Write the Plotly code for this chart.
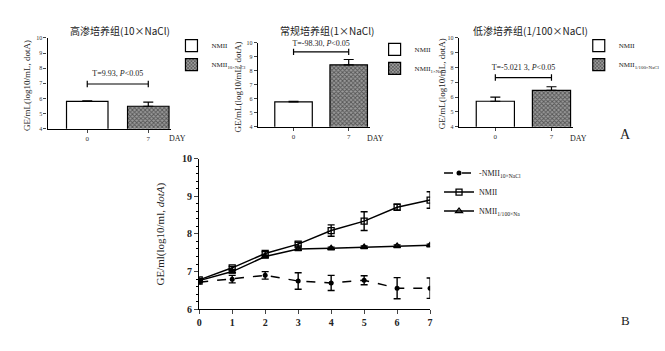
import plotly.graph_objects as go

# ---------------- data ----------------
bar_days = ["0", "7"]
# panel A1 (10xNaCl)
a1_vals = [5.80, 5.48]
a1_err = [0.04, 0.28]
a1_bracket = 6.95
# panel A2 (1xNaCl)
a2_vals = [5.78, 8.42]
a2_err = [0.04, 0.38]
a2_bracket = 9.35
# panel A3 (1/100xNaCl)
a3_vals = [5.72, 6.45]
a3_err = [0.28, 0.25]
a3_bracket = 7.32

titles = ["高渗培养组(10×NaCl)", "常规培养组(1×NaCl)", "低渗培养组(1/100×NaCl)"]
stats = ["T=9.93, <i>P</i><0.05", "T=-98.30, <i>P</i><0.05", "T=-5.021 3, <i>P</i><0.05"]
stat_offset = [0.65, 0.55, 0.65]
legend_sub = ["10×NaCl", "1×NaCl", "1/100×NaCl"]

days = [0, 1, 2, 3, 4, 5, 6, 7]
high_vals = [6.72, 6.80, 6.90, 6.75, 6.70, 6.77, 6.56, 6.56]
high_err = [0.05, 0.10, 0.10, 0.22, 0.20, 0.12, 0.28, 0.27]
norm_vals = [6.78, 7.10, 7.48, 7.73, 8.09, 8.34, 8.71, 8.90]
norm_err = [0.04, 0.04, 0.05, 0.05, 0.15, 0.25, 0.08, 0.22]
low_vals = [6.76, 7.00, 7.40, 7.60, 7.62, 7.65, 7.68, 7.70]
low_err = [0.03, 0.03, 0.03, 0.03, 0.03, 0.03, 0.03, 0.03]

W, H = 665, 351
SERIF = "Liberation Serif"
CJK = "Noto Sans CJK SC"

def px(x):
    return x / W

def py(y):
    return 1 - y / H

fig = go.Figure()

panels = [
    dict(vals=a1_vals, err=a1_err, br=a1_bracket, x=(45, 170), y=(33, 127), tx=118, leg=(170, 26), ytx=24),
    dict(vals=a2_vals, err=a2_err, br=a2_bracket, x=(257, 370), y=(38, 125), tx=327, leg=(375, 30), ytx=237),
    dict(vals=a3_vals, err=a3_err, br=a3_bracket, x=(460, 575), y=(33, 125), tx=532, leg=(581, 26), ytx=443),
]

annotations = []
for i, p in enumerate(panels):
    n = i + 1
    xa = "x" if n == 1 else f"x{n}"
    ya = "y" if n == 1 else f"y{n}"
    lg = "legend" if n == 1 else f"legend{n}"
    xpos = [0, 1]
    fig.add_trace(go.Bar(
        x=[xpos[0]], y=[p["vals"][0]], base=0, width=0.68,
        marker=dict(color="white", line=dict(color="black", width=1.2)),
        error_y=dict(type="data", array=[p["err"][0]], arrayminus=[0], symmetric=False,
                     color="black", thickness=1.2, width=5),
        name="NMII", xaxis=xa, yaxis=ya, legend=lg, showlegend=True))
    fig.add_trace(go.Bar(
        x=[xpos[1]], y=[p["vals"][1]], base=0, width=0.68,
        marker=dict(color="#8a8a8a", line=dict(color="black", width=1.2),
                    pattern=dict(shape="x", fgcolor="#111", bgcolor="#9a9a9a", size=3, solidity=0.5)),
        error_y=dict(type="data", array=[p["err"][1]], arrayminus=[0], symmetric=False,
                     color="black", thickness=1.2, width=5),
        name=f"NMII<sub>{legend_sub[i]}</sub>", xaxis=xa, yaxis=ya, legend=lg, showlegend=True))
    # bracket
    b = p["br"]
    fig.add_trace(go.Scatter(
        x=[0, 0, None, 0, 1, None, 1, 1], y=[b - 0.22, b + 0.22, None, b, b, None, b - 0.22, b + 0.22],
        mode="lines", line=dict(color="black", width=1.2), xaxis=xa, yaxis=ya,
        showlegend=False, hoverinfo="skip"))
    fig.add_trace(go.Scatter(
        x=[0.5], y=[b + stat_offset[i]], mode="text", text=[stats[i]], cliponaxis=False,
        textfont=dict(family=SERIF, size=8, color="#222"), xaxis=xa, yaxis=ya,
        showlegend=False, hoverinfo="skip"))

    axis_x = dict(domain=[px(p["x"][0]), px(p["x"][1])], range=[-0.65, 1.38],
                  tickvals=[0, 1], ticktext=bar_days, ticks="outside", ticklen=3, tickwidth=1,
                  showline=True, linecolor="black", linewidth=1.2, showgrid=False, zeroline=False,
                  tickfont=dict(family=SERIF, size=7, color="#333"), anchor=ya)
    axis_y = dict(domain=[py(p["y"][1]), py(p["y"][0])], range=[4, 10], dtick=1,
                  ticks="outside", ticklen=3, tickwidth=1, showline=True, linecolor="black",
                  linewidth=1.2, showgrid=False, zeroline=False,
                  tickfont=dict(family=SERIF, size=6, color="#333"), anchor=xa)
    if n == 1:
        fig.update_layout(xaxis=axis_x, yaxis=axis_y)
    else:
        fig.update_layout(**{f"xaxis{n}": axis_x, f"yaxis{n}": axis_y})

    fig.update_layout(**{lg: dict(x=px(p["leg"][0]), y=py(p["leg"][1]), xanchor="left", yanchor="top",
                                   bgcolor="rgba(0,0,0,0)", font=dict(family=SERIF, size=7, color="#222"),
                                   itemwidth=30, tracegroupgap=0)})
    annotations.append(dict(x=px(p["tx"]), y=py(25), xref="paper", yref="paper", text=titles[i],
                            xanchor="center", yanchor="middle",
                            showarrow=False, font=dict(family=CJK, size=10, color="#222")))
    annotations.append(dict(x=px(p["ytx"]), y=py((p["y"][0] + p["y"][1]) / 2 + 2), xref="paper", yref="paper",
                            xanchor="center", yanchor="middle",
                            text="GE/mL(log10/mL, dotA)", textangle=-90, showarrow=False,
                            font=dict(family=SERIF, size=9, color="#222")))
    annotations.append(dict(x=px(p["x"][1] + 6), y=py(137), xref="paper", yref="paper", text="DAY",
                            xanchor="center", yanchor="middle",
                            showarrow=False, font=dict(family=SERIF, size=8, color="#222")))

# ---------------- panel B ----------------
common_err = dict(type="data", color="black", thickness=1.4, width=3.5)
fig.add_trace(go.Scatter(x=days, y=high_vals, mode="lines+markers", name="-NMII<sub>10×NaCl</sub>",
                         line=dict(color="black", width=1.5, dash="dash"),
                         marker=dict(symbol="circle", size=5, color="black"),
                         error_y=dict(array=high_err, **common_err), xaxis="x4", yaxis="y4", legend="legend4"))
fig.add_trace(go.Scatter(x=days, y=norm_vals, mode="lines+markers", name="NMII",
                         line=dict(color="black", width=1.5),
                         marker=dict(symbol="square-open", size=6, color="black", line=dict(width=1.3)),
                         error_y=dict(array=norm_err, **common_err), xaxis="x4", yaxis="y4", legend="legend4"))
fig.add_trace(go.Scatter(x=days, y=low_vals, mode="lines+markers", name="NMII<sub>1/100×Na</sub>",
                         line=dict(color="black", width=1.5),
                         marker=dict(symbol="triangle-up-open", size=6, color="black", line=dict(width=1.3)),
                         error_y=dict(array=low_err, **common_err), xaxis="x4", yaxis="y4", legend="legend4"))

fig.update_layout(
    xaxis4=dict(domain=[px(198), px(431)], range=[0, 7], dtick=1, ticks="outside", ticklen=4,
                tickwidth=1.2, showline=True, linecolor="black", linewidth=1.4, showgrid=False,
                zeroline=False, tickfont=dict(family=SERIF, size=10, color="#222", weight="bold"),
                anchor="y4"),
    yaxis4=dict(domain=[py(314), py(158)], range=[6, 10], dtick=1, ticks="outside", ticklen=4,
                tickwidth=1.2, showline=True, linecolor="black", linewidth=1.4, showgrid=False,
                zeroline=False, tickfont=dict(family=SERIF, size=10, color="#222", weight="bold"),
                minor=dict(ticks="outside", ticklen=2, dtick=0.2, tickcolor="black"),
                anchor="x4"),
    legend4=dict(x=px(440), y=py(158), xanchor="left", yanchor="top", bgcolor="rgba(0,0,0,0)",
                 font=dict(family=SERIF, size=8, color="#222"), itemwidth=30, tracegroupgap=4),
)
annotations.append(dict(x=px(159), y=py(236), xref="paper", yref="paper", xanchor="center", yanchor="middle",
                        text="GE/ml(log10/ml, <i>dotA</i>)", textangle=-90, showarrow=False,
                        font=dict(family=SERIF, size=11, color="#222")))
annotations.append(dict(x=px(628), y=py(133), xref="paper", yref="paper", text="A", showarrow=False,
                        xanchor="center", yanchor="middle",
                        font=dict(family=SERIF, size=14, color="#222")))
annotations.append(dict(x=px(628), y=py(326), xref="paper", yref="paper", text="B", showarrow=False,
                        xanchor="center", yanchor="middle",
                        font=dict(family=SERIF, size=13, color="#222")))

fig.update_layout(width=W, height=H, margin=dict(l=0, r=0, t=0, b=0), plot_bgcolor="white",
                  paper_bgcolor="white", annotations=annotations, barmode="overlay",
                  font=dict(family=SERIF, color="#222"))

fig.write_html("out.html")
